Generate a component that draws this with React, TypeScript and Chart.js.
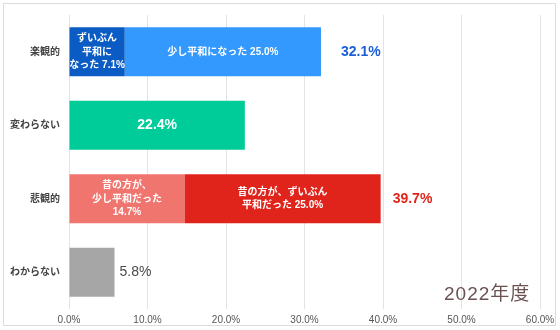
import React, { useEffect, useRef } from "react";
import { Chart, registerables } from "chart.js";

Chart.register(...registerables);

const categories = ["楽観的", "変わらない", "悲観的", "わからない"];
const xTicks = [0, 10, 20, 30, 40, 50, 60];

const seriesNames = [
  "ずいぶん平和になった",
  "少し平和になった",
  "変わらない",
  "昔の方が、少し平和だった",
  "昔の方が、ずいぶん平和だった",
  "わからない",
];
const veryPeaceful = [7.1, null, null, null];
const slightlyPeaceful = [25.0, null, null, null];
const unchanged = [null, 22.4, null, null];
const pastSlightly = [null, null, 14.7, null];
const pastMuch = [null, null, 25.0, null];
const unknown = [null, null, null, 5.8];

const seriesColors = ["#0a5cc4", "#3399ff", "#00cc99", "#f0756e", "#e0241b", "#a6a6a6"];

const innerLabels: (string[] | null)[] = [
  ["ずいぶん", "平和に", "なった 7.1%"],
  ["少し平和になった 25.0%"],
  ["22.4%"],
  ["昔の方が、", "少し平和だった", "14.7%"],
  ["昔の方が、ずいぶん", "平和だった 25.0%"],
  null,
];
const innerFontSize = [10, 10, 14, 10, 10, 10];

const totals = [32.1, null, 39.7, 5.8];
const totalColors = ["#1a5fd6", "#444", "#e0241b", "#4a4a4a"];
const totalBold = [true, true, true, false];
const totalGap = [20, 10, 12, 5];

const FONT = "'Liberation Sans', 'Noto Sans CJK JP', sans-serif";

export default function App() {
  const ref = useRef<HTMLCanvasElement | null>(null);
  useEffect(() => {
    const series = [veryPeaceful, slightlyPeaceful, unchanged, pastSlightly, pastMuch, unknown];
    const labelPlugin = {
      id: "labels",
      beforeDraw(chart: any) {
        const ctx = chart.ctx;
        ctx.save();
        ctx.fillStyle = "#ffffff";
        ctx.fillRect(0, 0, chart.width, chart.height);
        ctx.strokeStyle = "#dcdcdc";
        ctx.lineWidth = 1;
        ctx.strokeRect(3.5, 3.5, 552, 322);
        ctx.restore();
      },
      afterDatasetsDraw(chart: any) {
        const ctx = chart.ctx;
        ctx.save();
        ctx.textAlign = "center";
        ctx.textBaseline = "middle";
        chart.data.datasets.forEach((ds: any, di: number) => {
          const lines = innerLabels[di];
          if (!lines) return;
          const meta = chart.getDatasetMeta(di);
          meta.data.forEach((el: any, i: number) => {
            if (ds.data[i] == null) return;
            const fs = innerFontSize[di];
            ctx.font = `bold ${fs}px ${FONT}`;
            ctx.fillStyle = "#ffffff";
            const cx = (el.x + el.base) / 2;
            const lh = fs * 1.35;
            const y0 = el.y - ((lines.length - 1) * lh) / 2;
            lines.forEach((t, k) => ctx.fillText(t, cx, y0 + k * lh));
          });
        });
        const xs = chart.scales.x;
        const ys = chart.scales.y;
        totals.forEach((v, i) => {
          if (v == null) return;
          ctx.font = `${totalBold[i] ? "bold " : ""}14px ${FONT}`;
          ctx.fillStyle = totalColors[i];
          ctx.textAlign = "left";
          ctx.fillText(v.toFixed(1) + "%", xs.getPixelForValue(v) + totalGap[i], ys.getPixelForValue(i));
        });
        ctx.font = `19px ${FONT}`;
        ctx.fillStyle = "#6b5252";
        ctx.textAlign = "left";
        (ctx as any).letterSpacing = "1px";
        ctx.fillText("2022年度", 444, 295);
        ctx.restore();
      },
    };
    const chart = new Chart(ref.current!, {
      type: "bar",
      data: {
        labels: categories,
        datasets: series.map((d, i) => ({
          label: seriesNames[i],
          data: d,
          backgroundColor: seriesColors[i],
          borderWidth: 0,
          barPercentage: 0.67,
          categoryPercentage: 1,
          skipNull: true,
        })) as any,
      },
      options: {
        indexAxis: "y",
        animation: false,
        responsive: false,
        layout: { padding: { top: 11, right: 20, left: 0, bottom: 0 } },
        plugins: { legend: { display: false }, tooltip: { enabled: false } },
        scales: {
          x: {
            stacked: true,
            min: 0,
            max: 60,
            afterBuildTicks(scale: any) {
              scale.ticks = xTicks.map((v) => ({ value: v }));
            },
            afterFit(scale: any) {
              scale.height = 21;
            },
            ticks: {
              callback: (v: any) => Number(v).toFixed(1) + "%",
              color: "#555",
              font: { size: 10, family: FONT },
              padding: 5,
            },
            grid: { color: "#e3e3e3", drawTicks: false, lineWidth: 1 },
            border: { display: false },
          },
          y: {
            stacked: true,
            afterFit(scale: any) {
              scale.width = 69;
            },
            ticks: {
              color: "#444",
              font: { size: 10, family: FONT, weight: "bold" },
              padding: 9,
            },
            grid: { display: false, drawTicks: false },
            border: { display: false },
          },
        },
      } as any,
      plugins: [labelPlugin],
    });
    return () => chart.destroy();
  }, []);
  return (
    <div style={{ position: "fixed", left: 0, top: 0, width: 560, height: 330 }}>
      <canvas ref={ref} width={560} height={330} style={{ width: 560, height: 330 }} />
    </div>
  );
}
